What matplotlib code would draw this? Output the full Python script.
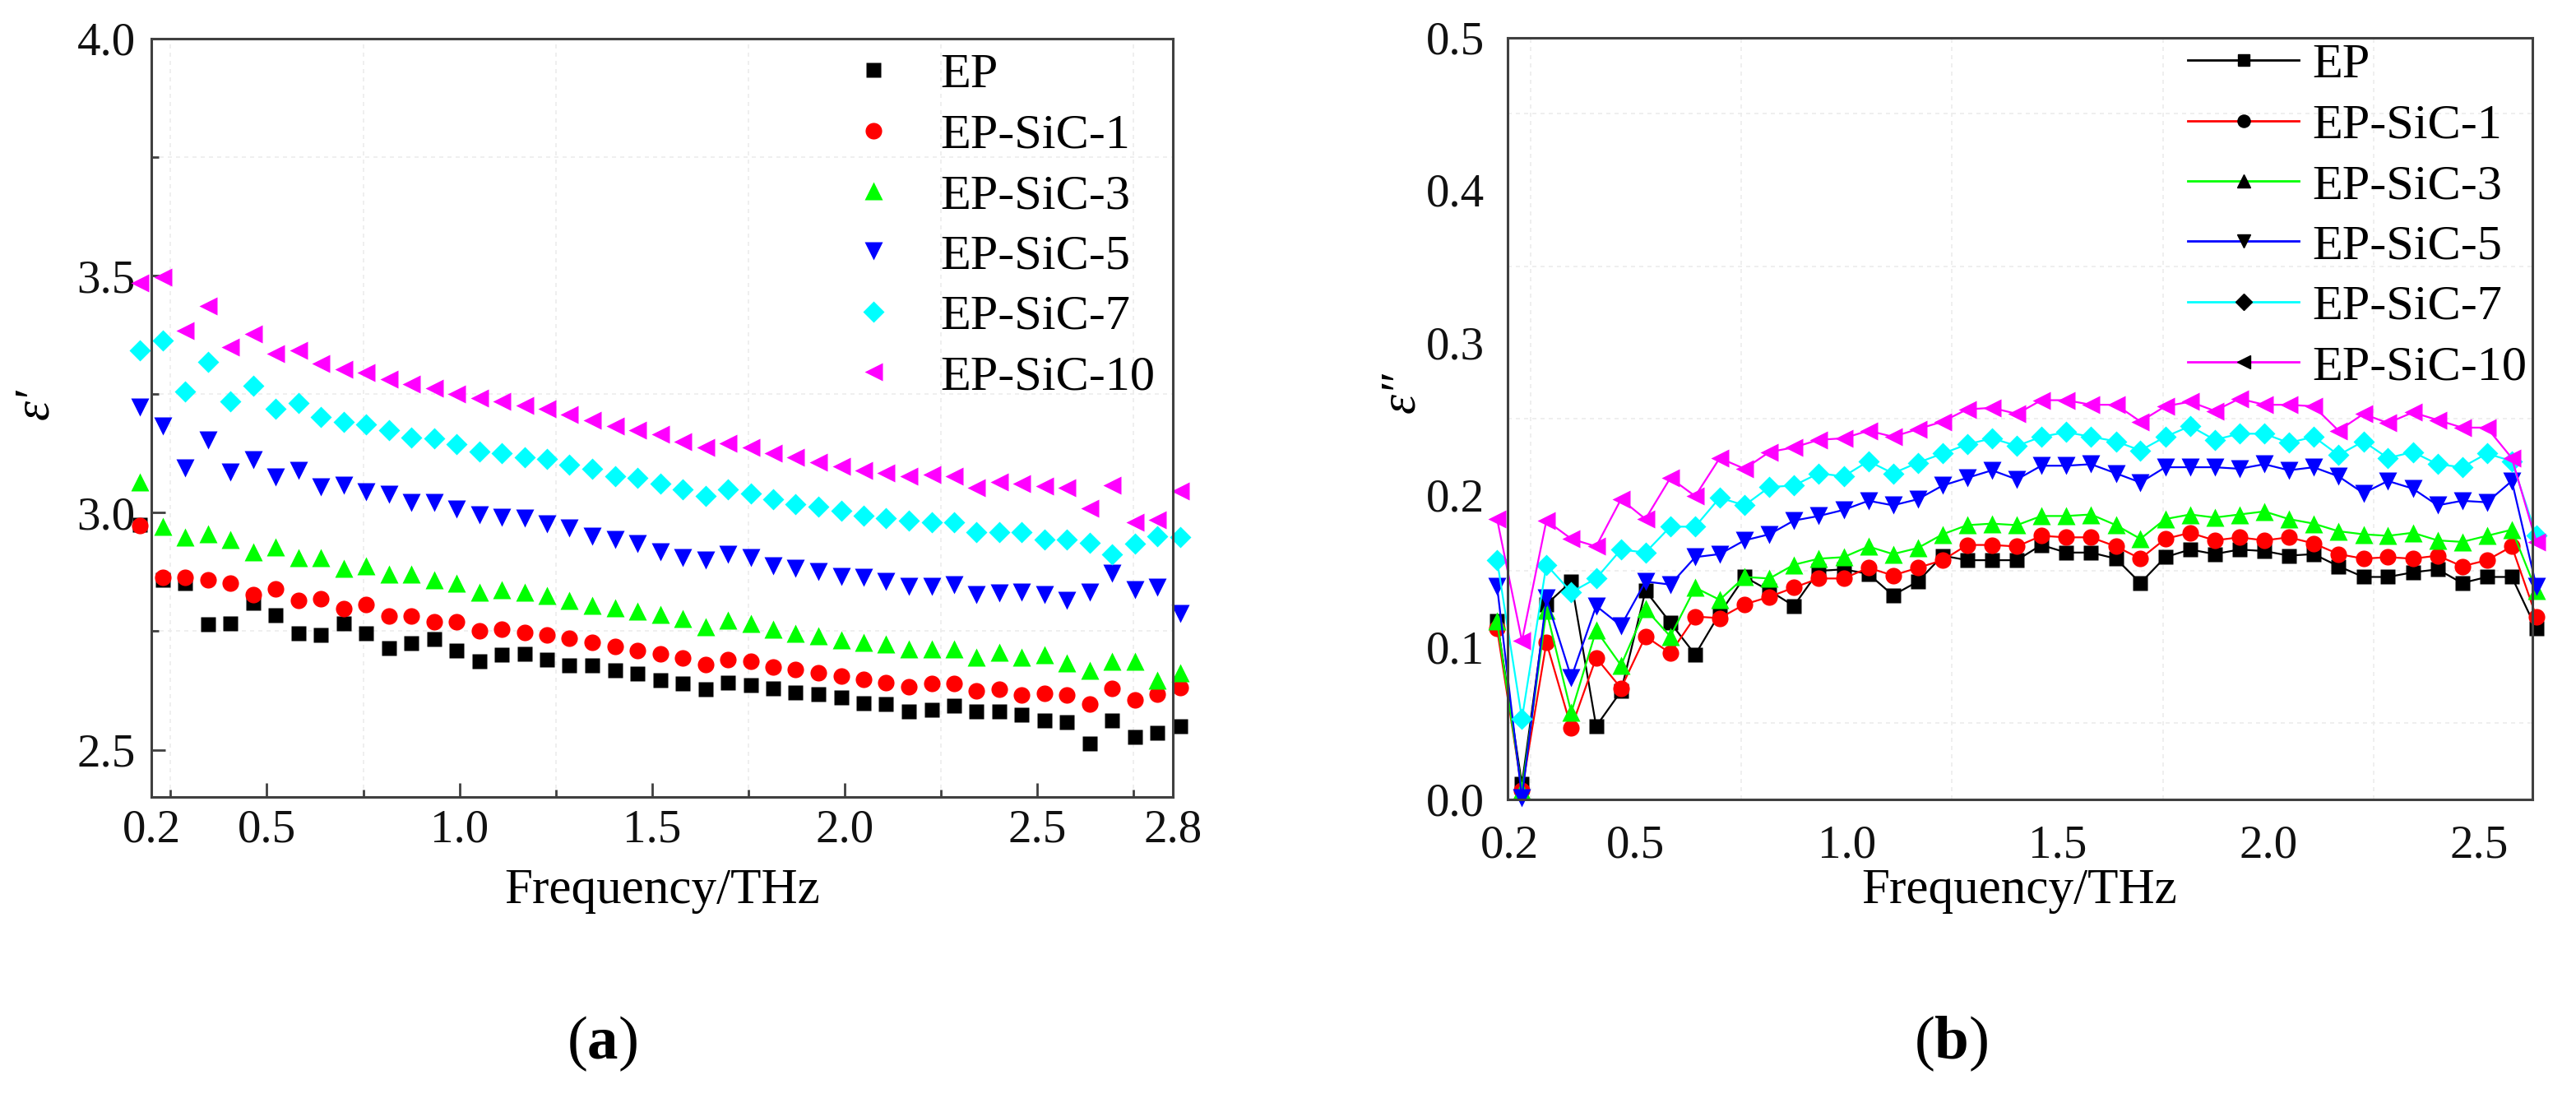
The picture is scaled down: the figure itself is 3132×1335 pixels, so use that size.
import numpy as np
import matplotlib
matplotlib.use("Agg")
import matplotlib.pyplot as plt
from matplotlib.lines import Line2D

plt.rcParams['font.family'] = ['Liberation Serif', 'DejaVu Serif']
plt.rcParams['mathtext.fontset'] = 'custom'
plt.rcParams['mathtext.rm'] = 'Liberation Serif'
plt.rcParams['mathtext.bf'] = 'Liberation Serif:bold'
plt.rcParams['mathtext.it'] = 'Liberation Serif:italic'

# frequency grid (THz), same for both panels; panel (b) uses the first 43 points
freq = [0.171, 0.230, 0.288, 0.347, 0.406, 0.465, 0.523, 0.582, 0.641, 0.699,
        0.758, 0.817, 0.875, 0.934, 0.993, 1.052, 1.110, 1.169, 1.228, 1.286,
        1.345, 1.404, 1.462, 1.521, 1.580, 1.639, 1.697, 1.756, 1.815, 1.873,
        1.932, 1.991, 2.049, 2.108, 2.167, 2.226, 2.284, 2.343, 2.402, 2.460,
        2.519, 2.578, 2.636, 2.695, 2.754, 2.813, 2.871]

names = ['EP', 'EP-SiC-1', 'EP-SiC-3', 'EP-SiC-5', 'EP-SiC-7', 'EP-SiC-10']
colors = ['#000000', '#ff0000', '#00ff00', '#0000ff', '#00ffff', '#ff00ff']
markers = ['s', 'o', '^', 'v', 'D', '<']
msizes = [13, 14.5, 16, 16, 13.5, 16]

# (a) real part of permittivity
eps_r_EP = [2.975, 2.858, 2.852, 2.764, 2.766, 2.809, 2.783, 2.746, 2.742, 2.766,
            2.746, 2.715, 2.724, 2.734, 2.709, 2.687, 2.700, 2.702, 2.691, 2.678,
            2.678, 2.667, 2.661, 2.647, 2.639, 2.627, 2.642, 2.636, 2.630, 2.620,
            2.618, 2.610, 2.599, 2.596, 2.581, 2.585, 2.593, 2.581, 2.581, 2.574,
            2.561, 2.558, 2.514, 2.562, 2.527, 2.535, 2.550]
eps_r_1 = [2.973, 2.864, 2.864, 2.858, 2.852, 2.827, 2.839, 2.815, 2.819, 2.797,
           2.807, 2.782, 2.782, 2.770, 2.770, 2.751, 2.754, 2.748, 2.742, 2.736,
           2.726, 2.718, 2.709, 2.703, 2.693, 2.679, 2.691, 2.687, 2.675, 2.669,
           2.663, 2.655, 2.648, 2.642, 2.633, 2.639, 2.639, 2.625, 2.628, 2.616,
           2.619, 2.616, 2.596, 2.629, 2.605, 2.618, 2.632]
eps_r_3 = [3.064, 2.971, 2.949, 2.955, 2.943, 2.918, 2.927, 2.906, 2.906, 2.882,
           2.888, 2.870, 2.870, 2.858, 2.852, 2.833, 2.837, 2.833, 2.825, 2.815,
           2.805, 2.800, 2.793, 2.785, 2.776, 2.760, 2.773, 2.766, 2.754, 2.746,
           2.740, 2.731, 2.726, 2.723, 2.712, 2.713, 2.713, 2.695, 2.706, 2.695,
           2.700, 2.683, 2.668, 2.686, 2.686, 2.647, 2.662]
eps_r_5 = [3.223, 3.182, 3.095, 3.153, 3.085, 3.111, 3.075, 3.089, 3.055, 3.058,
           3.044, 3.038, 3.022, 3.022, 3.007, 2.995, 2.991, 2.989, 2.977, 2.967,
           2.951, 2.943, 2.934, 2.918, 2.906, 2.900, 2.912, 2.906, 2.888, 2.882,
           2.876, 2.866, 2.864, 2.855, 2.845, 2.845, 2.848, 2.827, 2.831, 2.833,
           2.827, 2.815, 2.833, 2.873, 2.837, 2.843, 2.788]
eps_r_7 = [3.342, 3.363, 3.255, 3.318, 3.235, 3.268, 3.219, 3.231, 3.202, 3.192,
           3.186, 3.174, 3.158, 3.156, 3.144, 3.129, 3.125, 3.117, 3.113, 3.101,
           3.092, 3.077, 3.073, 3.061, 3.049, 3.036, 3.049, 3.040, 3.028, 3.018,
           3.013, 3.004, 2.994, 2.989, 2.983, 2.979, 2.979, 2.959, 2.959, 2.959,
           2.943, 2.943, 2.937, 2.912, 2.934, 2.951, 2.949]
eps_r_10 = [3.484, 3.496, 3.384, 3.436, 3.350, 3.377, 3.336, 3.342, 3.314, 3.302,
            3.296, 3.281, 3.271, 3.263, 3.251, 3.241, 3.235, 3.226, 3.219, 3.207,
            3.194, 3.182, 3.174, 3.165, 3.150, 3.137, 3.146, 3.137, 3.125, 3.117,
            3.107, 3.097, 3.089, 3.083, 3.077, 3.080, 3.077, 3.052, 3.064, 3.061,
            3.056, 3.052, 3.010, 3.058, 2.979, 2.985, 3.046]

# (b) imaginary part of permittivity
eps_i_EP = [0.117, 0.010, 0.128, 0.143, 0.048, 0.071, 0.137, 0.116, 0.095, 0.122,
            0.146, 0.137, 0.127, 0.150, 0.151, 0.148, 0.134, 0.143, 0.160, 0.157,
            0.157, 0.157, 0.167, 0.162, 0.162, 0.158, 0.142, 0.159, 0.164, 0.161,
            0.164, 0.163, 0.160, 0.161, 0.153, 0.146, 0.146, 0.149, 0.151, 0.142,
            0.146, 0.146, 0.112]
eps_i_1 = [0.112, 0.006, 0.103, 0.047, 0.093, 0.073, 0.107, 0.096, 0.120, 0.119,
           0.128, 0.133, 0.139, 0.145, 0.145, 0.152, 0.147, 0.152, 0.157, 0.167,
           0.167, 0.166, 0.173, 0.172, 0.172, 0.166, 0.158, 0.171, 0.175, 0.170,
           0.172, 0.170, 0.172, 0.168, 0.161, 0.158, 0.159, 0.158, 0.160, 0.153,
           0.157, 0.166, 0.120]
eps_i_3 = [0.117, 0.006, 0.124, 0.057, 0.111, 0.088, 0.125, 0.107, 0.139, 0.131,
           0.146, 0.145, 0.154, 0.158, 0.159, 0.166, 0.161, 0.165, 0.174, 0.180,
           0.181, 0.180, 0.186, 0.186, 0.187, 0.180, 0.171, 0.184, 0.187, 0.185,
           0.187, 0.189, 0.184, 0.181, 0.176, 0.174, 0.173, 0.175, 0.170, 0.169,
           0.173, 0.177, 0.137]
eps_i_5 = [0.140, 0.001, 0.132, 0.080, 0.127, 0.114, 0.143, 0.141, 0.159, 0.161,
           0.170, 0.174, 0.183, 0.186, 0.190, 0.196, 0.193, 0.197, 0.206, 0.211,
           0.216, 0.210, 0.219, 0.219, 0.220, 0.214, 0.208, 0.218, 0.218, 0.218,
           0.217, 0.220, 0.216, 0.218, 0.212, 0.201, 0.209, 0.204, 0.193, 0.196,
           0.195, 0.209, 0.140]
eps_i_7 = [0.157, 0.053, 0.154, 0.136, 0.145, 0.164, 0.162, 0.179, 0.179, 0.198,
           0.193, 0.205, 0.206, 0.214, 0.212, 0.222, 0.214, 0.221, 0.227, 0.233,
           0.237, 0.232, 0.238, 0.241, 0.238, 0.235, 0.229, 0.238, 0.245, 0.236,
           0.240, 0.240, 0.234, 0.238, 0.226, 0.235, 0.224, 0.228, 0.220, 0.218,
           0.227, 0.222, 0.173]
eps_i_10 = [0.184, 0.104, 0.183, 0.171, 0.166, 0.197, 0.184, 0.211, 0.199, 0.224,
            0.217, 0.228, 0.231, 0.236, 0.237, 0.242, 0.238, 0.243, 0.248, 0.256,
            0.257, 0.253, 0.262, 0.262, 0.259, 0.259, 0.248, 0.258, 0.261, 0.255,
            0.263, 0.259, 0.259, 0.258, 0.242, 0.253, 0.247, 0.254, 0.249, 0.244,
            0.244, 0.224, 0.169]

real_parts = [eps_r_EP, eps_r_1, eps_r_3, eps_r_5, eps_r_7, eps_r_10]
imag_parts = [eps_i_EP, eps_i_1, eps_i_3, eps_i_5, eps_i_7, eps_i_10]

W, H = 3132, 1335
fig = plt.figure(figsize=(W / 100, H / 100), dpi=100)
ax1 = fig.add_axes([184 / W, 1 - 969.3 / H, (1425.7 - 184) / W, (969.3 - 46.7) / H])
ax2 = fig.add_axes([1832.5 / W, 1 - 972 / H, (3078.6 - 1832.5) / W, (972 - 45.6) / H])

spine_col = '#404040'
grid_kw = dict(color='#ececec', lw=1.2, ls=(0, (3, 3)), zorder=0)

# ---- panel (a): scatter
for vals, name, c, m, ms in zip(real_parts, names, colors, markers, msizes):
    ax1.plot(freq, vals, ls='none', marker=m, ms=ms, mfc=c, mec='none',
             label=name, clip_on=False, zorder=3)

ax1.set_xlim(0.2, 2.852)
ax1.set_ylim(2.4, 4.0)
ax1.set_xticks([0.2, 0.5, 1.0, 1.5, 2.0, 2.5, 2.852])
ax1.set_xticklabels(['0.2', '0.5', '1.0', '1.5', '2.0', '2.5', '2.8'])
ax1.set_xticks([0.25, 0.75, 1.25, 1.75, 2.25, 2.75], minor=True)
ax1.set_yticks([2.5, 3.0, 3.5, 4.0])
ax1.set_yticklabels(['2.5', '3.0', '3.5', '4.0'])
ax1.set_yticks([2.75, 3.25, 3.75], minor=True)
ax1.tick_params(which='both', direction='in', top=False, right=False,
                colors=spine_col, labelcolor='#111111', width=2)
ax1.tick_params(which='major', length=12, labelsize=41)
ax1.tick_params(which='minor', length=6.5)
ax1.tick_params(axis='x', which='major', pad=10)
ax1.tick_params(axis='y', which='major', pad=14)
for xv in [0.25, 0.75, 1.25, 1.75, 2.25, 2.75]:
    ax1.axvline(xv, **grid_kw)
for yv in [2.75, 3.25, 3.75]:
    ax1.axhline(yv, **grid_kw)

ax1.set_xlabel('Frequency/THz', fontsize=44, va='center')
ax1.xaxis.set_label_coords(0.5, -(1083 - 969.3) / (969.3 - 46.7))
ax1.set_ylabel('ε′', fontsize=44, style='italic', va='center', ha='center')
ax1.yaxis.set_label_coords((43 - 184) / (1425.7 - 184), 0.518)

leg1 = ax1.legend(loc='upper left', bbox_to_anchor=(1032 / W, 1 - 64 / H),
                  bbox_transform=fig.transFigure, frameon=False, fontsize=43.5,
                  handlelength=1.0, handletextpad=0.85, labelspacing=0.3,
                  borderpad=0, borderaxespad=0)

# ---- panel (b): lines with symbols
for vals, name, c, m, ms in zip(imag_parts, names, colors, markers, msizes):
    ax2.plot(freq[:len(vals)], vals, color=c, lw=1.6, marker=m, ms=ms,
             mfc=c, mec='none', clip_on=False, zorder=3)

ax2.set_xlim(0.195, 2.626)
ax2.set_ylim(0, 0.5)
ax2.set_xticks([0.2, 0.5, 1.0, 1.5, 2.0, 2.5])
ax2.set_xticklabels(['0.2', '0.5', '1.0', '1.5', '2.0', '2.5'])
ax2.set_yticks([0.0, 0.1, 0.2, 0.3, 0.4, 0.5])
ax2.set_yticklabels(['0.0', '0.1', '0.2', '0.3', '0.4', '0.5'])
ax2.tick_params(which='both', length=0, labelsize=41, labelcolor='#111111')
ax2.tick_params(axis='x', pad=22)
ax2.tick_params(axis='y', pad=20)
for xv in [0.25, 0.75, 1.25, 1.75, 2.25]:
    ax2.axvline(xv, **grid_kw)
for yv in [0.05, 0.15, 0.25, 0.35, 0.45]:
    ax2.axhline(yv, **grid_kw)

ax2.set_xlabel('Frequency/THz', fontsize=44, va='center')
ax2.xaxis.set_label_coords(0.5, -(1083 - 972) / (972 - 45.6))
ax2.set_ylabel('ε″', fontsize=44, style='italic', va='center', ha='center')
ax2.yaxis.set_label_coords((1704 - 1832.5) / (3078.6 - 1832.5), 0.534)

handles = [Line2D([], [], color=c, lw=2, marker=m, ms=ms * 0.75, mfc='k', mec='k')
           for c, m, ms in zip(colors, markers, msizes)]
leg2 = ax2.legend(handles, names, loc='upper left',
                  bbox_to_anchor=(2660 / W, 1 - 52 / H),
                  bbox_transform=fig.transFigure, frameon=False, fontsize=43.5,
                  handlelength=2.24, handletextpad=0.26, labelspacing=0.3,
                  borderpad=0, borderaxespad=0)

for ax in (ax1, ax2):
    for sp in ax.spines.values():
        sp.set_color(spine_col)
        sp.set_linewidth(2.2)
        sp.set_zorder(4)

fig.text(732 / W, 1 - 1269 / H, r'($\mathbf{a}$)', fontsize=54, ha='center', va='center')
fig.text(2372 / W, 1 - 1269 / H, r'($\mathbf{b}$)', fontsize=54, ha='center', va='center')

fig.savefig('out.png', dpi=100)
